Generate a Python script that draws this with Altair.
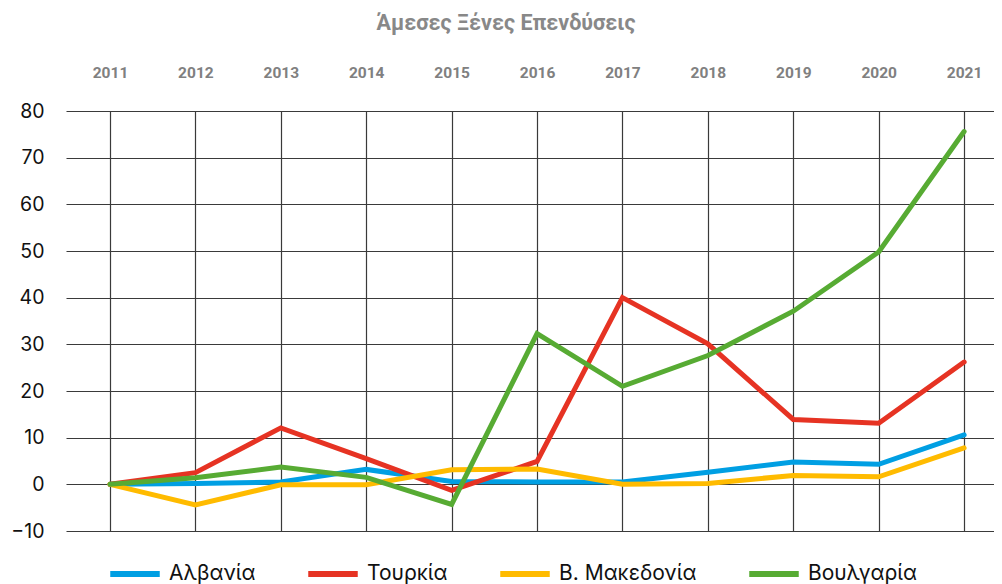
import altair as alt
import pandas as pd

years = list(range(2011, 2022))
series_names = ["Αλβανία", "Τουρκία", "Β. Μακεδονία", "Βουλγαρία"]
albania = [0, 0.2, 0.5, 3.2, 0.6, 0.5, 0.5, 2.6, 4.8, 4.3, 10.6]
turkey = [0, 2.5, 12.1, 5.5, -1.3, 4.9, 40.0, 30.1, 13.9, 13.1, 26.2]
macedonia = [0, -4.4, -0.1, -0.1, 3.1, 3.3, 0.0, 0.2, 1.9, 1.6, 7.8]
bulgaria = [0, 1.4, 3.7, 1.5, -4.3, 32.3, 21.0, 27.6, 37.1, 49.8, 75.6]
colors = ["#009FE3", "#E63323", "#FFBB00", "#57AB33"]
y_ticks = list(range(-10, 90, 10))
title_text = "Άμεσες Ξένες Επενδύσεις"

rows = []
for name, vals in zip(series_names, [albania, turkey, macedonia, bulgaria]):
    for yr, v in zip(years, vals):
        rows.append({"year": yr, "value": v, "series": name})
df = pd.DataFrame(rows)

chart = alt.Chart(df).mark_line(strokeWidth=5, strokeCap="round").encode(
    x=alt.X("year:Q",
            scale=alt.Scale(domain=[2010.485, 2021.35], nice=False, zero=False),
            axis=alt.Axis(orient="top", values=years, format="d", title=None,
                          ticks=False, domain=False, grid=True,
                          gridColor="#3a3a3a", gridWidth=1.2,
                          labelFont="Roboto", labelFontWeight="bold",
                          labelFontSize=15.5, labelColor="#808080", labelPadding=31)),
    y=alt.Y("value:Q",
            scale=alt.Scale(domain=[-10, 80], nice=False, zero=False),
            axis=alt.Axis(values=y_ticks, title=None, ticks=False, domain=False,
                          grid=True, gridColor="#3a3a3a", gridWidth=1.2,
                          labelFont="Inter", labelFontSize=19.5, labelColor="#111111",
                          labelPadding=22)),
    color=alt.Color("series:N",
                    scale=alt.Scale(domain=series_names, range=colors),
                    sort=series_names,
                    legend=alt.Legend(title=None, orient="none", direction="horizontal",
                                      legendX=41, legendY=435,
                                      symbolType="stroke", symbolStrokeWidth=6,
                                      symbolSize=2450, labelFont="Inter",
                                      labelFontSize=21, labelColor="#111111",
                                      labelOffset=6, columnPadding=40)),
).properties(
    width=928, height=420,
    title=alt.TitleParams(title_text, anchor="middle", fontSize=21.5, font="Roboto",
                          fontWeight="bold", color="#888888", offset=31, dx=-24),
    autosize=alt.AutoSizeParams(type="none"),
    padding={"left": 58, "top": 103, "right": 0, "bottom": 53},
).configure_view(stroke=None)

chart.save("out.html", embed_options={"renderer": "svg", "actions": False})
